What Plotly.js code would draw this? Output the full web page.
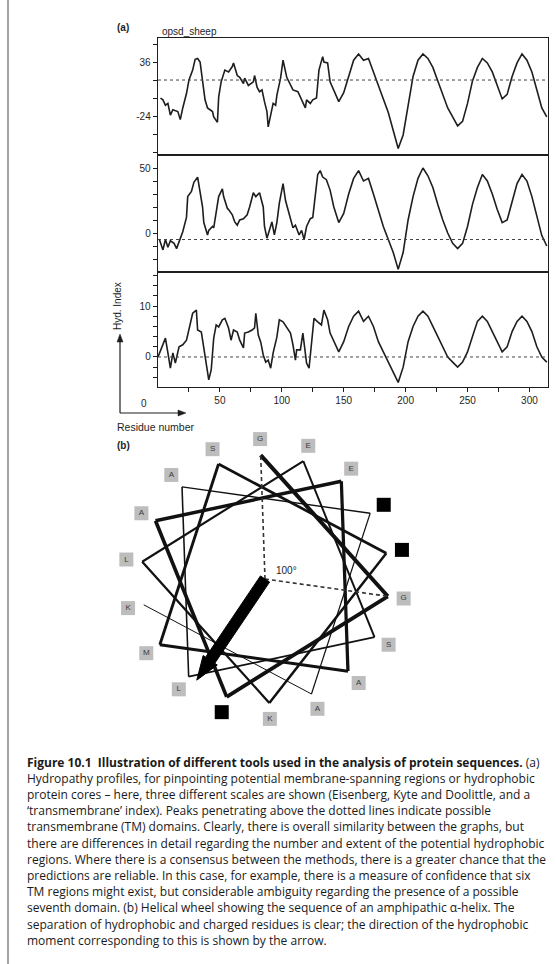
<!DOCTYPE html>
<html><head><meta charset="utf-8">
<script src="https://cdn.plot.ly/plotly-3.0.1.min.js"></script>
<style>html,body{margin:0;padding:0;background:#fff}#chart{width:556px;height:964px}</style>
</head><body><div id="chart"></div>
<script>
// ---------- DATA ----------
const eisenbergResidue = [2,4,6,8,10,12,16,18,20,23, 25,28,30,32,34,36,38,40,44,45, 48,49,51,54,57,60,61,64,66,69, 70,73,77,78,80,82,84,86,88,89, 91,93,95,96,99,101,104,107,109,113, 116,119,120,123,125,128,130,133,134,137, 139,
  142,146,150,154,158,162,166,170,174,178,182,186,190,194,198,202,206,210,214,218,222,226,230,234,238,242,246,250,254,258,262,266,270,274,278,282,286,290,294,298,302,306,310,314];
const eisenbergValue = [-4,-6,-12,-10,-23,-17,-19,-28,-15,1, 16,27,39,40,36,12,-6,-15,-19,-25, -31,-3,14,27,25,31,35,21,19,12, 18,10,14,21,8,3,5,-8,-19,-36, -23,-10,-12,-1,18,38,19,10,5,3, -6,-15,-6,-10,-6,-4,27,42,36,35, 14,
  5,-8,2,20,38,45,38,40,25,10,-5,-20,-40,-60,-45,-10,20,38,45,40,30,15,0,-15,-25,-35,-30,-10,15,30,40,35,25,10,-5,0,20,35,45,38,25,5,-15,-25];

const kdResidue = [1,4,6,8,10,13,15,18,20,23, 24,27,29,32,33,36,37,40,41,44, 45,48,49,52,53,56,57,60,62,64, 66,69,72,74,77,79,82,85,86,88, 90,92,94,96,98,100,101,103,106,109, 111,114,116,118,120,123,125,127,129,131, 133,136,139,
  142,146,150,154,158,162,166,170,174,178,182,186,190,194,198,202,206,210,214,218,222,226,230,234,238,242,246,250,254,258,262,266,270,274,278,282,286,290,294,298,302,306,310,314];
const kdValue = [-4.6,-13,-5,-11,-6,-8,-12,-5,1,12, 28,32,39,43,38,20,8,-1.5,2,5, 4,25,28,34,28,19,18,14,8.5,6, 10,11,14,20,31,28,31,20,5,-4, 2,8.5,-1.5,8,23,33,38,25,14,4, 6,-1.5,2,-5,5,11,12,28,45,48, 43,41,33,
  20,8,15,30,42,48,40,42,30,18,5,-5,-15,-28,-15,10,28,42,50,44,35,22,10,0,-8,-12,-8,5,22,35,45,40,30,18,8,10,25,38,45,40,28,12,-2,-10];

const tmResidue = [0,3,6,8,10,12,14,17,20,23, 26,28,31,32,35,37,40,41,43,45, 47,49,52,54,57,59,61,64,66,69, 70,73,76,78,79,81,83,85,87,89, 91,93,96,98,101,104,107,109,111,112, 115,117,119,120,122,124,126,129,132,134, 137,139,
  142,146,150,154,158,162,166,170,174,178,182,186,190,194,198,202,206,210,214,218,222,226,230,234,238,242,246,250,254,258,262,266,270,274,278,282,286,290,294,298,302,306,310,314];
const tmValue = [0,2,3.7,0.8,-2.2,0.8,-1.2,2,2.4,3.3, 6.6,8.6,9.2,5.3,4.9,1.8,-2.5,-4.5,-2.5,3.7, 6.3,5.9,7.3,7.6,5.7,3.3,5.3,4.9,3.3,1.8, 4.7,4.9,5.3,5.7,8.6,4.3,2.9,0.4,-1,-0.6, -2.2,0.8,3.9,7.3,6.9,5.9,4.7,2.4,-0.6,1.4, 1.4,4.7,1.4,-1.2,-2.2,2.7,7.6,6.9,6.3,9.2, 7.3,4.7,
  3,1,3,6,8,9,7,8,6,3,1,-1,-3,-5,-2,3,6,8,9,8,6,4,2,0,-1,-2,-1,1,4,7,8,7,5,3,1,2,5,7,8,7,5,2,0,-1];

const thresholds = [16, -5, 0];
const yTickLabelsTop = {vals:[-64,-44,-24,-4,16,36,56], text:['','','-24','','','36','']};
const yTickLabelsMid = {vals:[-20,-10,0,10,20,30,40,50], text:['','','0','','','','','50']};
const yTickLabelsBot = {vals:[-4,-2,0,2,4,6,8,10,12,14,16], text:['','','0','','','','','10','','','']};
const xTickVals = [25,50,75,100,125,150,175,200,225,250,275,300];
const xTickText = ['','50','','100','','150','','200','','250','','300'];

// helical wheel
const wheelResidues = ['G','G','K','A','E','A','M','S','R','K','L','E','S','L','A','K','A','K'];
const wheelCharged  = [0,0,1,0,0,0,0,0,1,0,0,0,0,0,0,1,0,0];
const wheelStepDeg = 100;
const wheelStartDeg = -2;
const momentAngleDeg = 214;

const captionLines = [
 "<b>Figure 10.1  Illustration of different tools used in the analysis of protein sequences.</b> (a)",
 "Hydropathy profiles, for pinpointing potential membrane-spanning regions or hydrophobic",
 "protein cores – here, three different scales are shown (Eisenberg, Kyte and Doolittle, and a",
 "‘transmembrane’ index). Peaks penetrating above the dotted lines indicate possible",
 "transmembrane (TM) domains. Clearly, there is overall similarity between the graphs, but",
 "there are differences in detail regarding the number and extent of the potential hydrophobic",
 "regions. Where there is a consensus between the methods, there is a greater chance that the",
 "predictions are reliable. In this case, for example, there is a measure of confidence that six",
 "TM regions might exist, but considerable ambiguity regarding the presence of a possible",
 "seventh domain. (b) Helical wheel showing the sequence of an amphipathic α-helix. The",
 "separation of hydrophobic and charged residues is clear; the direction of the hydrophobic",
 "moment corresponding to this is shown by the arrow."
];

// ---------- LAYOUT HELPERS ----------
const W = 556, H = 964;
const px = x => x / W, py = y => 1 - y / H;
const plotL = 158, plotR = 548;
const panels = [ {top:38, bot:155}, {top:155, bot:272}, {top:272, bot:387} ];
const yRanges = [[-67.3, 62.7], [-30, 60], [-5.9, 16.7]];
const xRange = [0, 315];
const ink = '#1e1e1e';
const tickFont = {family:'Liberation Sans, Arial, sans-serif', size:10, color:ink};

const traces = [];
const series = [[eisenbergResidue, eisenbergValue], [kdResidue, kdValue], [tmResidue, tmValue]];
series.forEach((s, i) => {
  traces.push({type:'scatter', mode:'lines', x:s[0], y:s[1], xaxis: i===0?'x':'x'+(i+1), yaxis: i===0?'y':'y'+(i+1),
    line:{color:ink, width:1.6}, hoverinfo:'skip', showlegend:false});
});

const layout = {
  width: W, height: H, margin:{l:0,r:0,t:0,b:0}, paper_bgcolor:'#fff', plot_bgcolor:'rgba(0,0,0,0)',
  showlegend:false, shapes:[], annotations:[]
};
const yTicks = [yTickLabelsTop, yTickLabelsMid, yTickLabelsBot];
panels.forEach((p, i) => {
  const xa = i===0?'xaxis':'xaxis'+(i+1), ya = i===0?'yaxis':'yaxis'+(i+1);
  const yid = i===0?'y':'y'+(i+1), xid = i===0?'x':'x'+(i+1);
  layout[xa] = {domain:[px(plotL), px(plotR)], range:xRange, anchor:yid, showgrid:false, zeroline:false,
    showline:true, mirror:true, linecolor:ink, linewidth:1.3, fixedrange:true,
    ticks: i===2?'outside':'', ticklen:4, tickcolor:ink, tickwidth:1,
    tickvals: i===2?xTickVals:[], ticktext: i===2?xTickText:[], showticklabels: i===2, tickfont:tickFont};
  layout[ya] = {domain:[py(p.bot), py(p.top)], range:yRanges[i], anchor:xid, showgrid:false, zeroline:false,
    showline:true, mirror:true, linecolor:ink, linewidth:1.3, fixedrange:true,
    ticks:'outside', ticklen:4, tickcolor:ink, tickwidth:1,
    tickvals:yTicks[i].vals, ticktext:yTicks[i].text, tickfont:tickFont};
  layout.shapes.push({type:'line', xref:xid+' domain', yref:yid, x0:0, x1:1, y0:thresholds[i], y1:thresholds[i],
    line:{color:'#444', width:1, dash:'3px,3px'}});
});

// ---------- HELICAL WHEEL (axis in pixel units) ----------
const wx0 = 95, wx1 = 445, wy0 = 425, wy1 = 745;
layout.xaxis4 = {domain:[px(wx0), px(wx1)], range:[wx0, wx1], anchor:'y4', visible:false, fixedrange:true};
layout.yaxis4 = {domain:[py(wy1), py(wy0)], range:[wy1, wy0], anchor:'x4', visible:false, fixedrange:true};
const cx = 265, cy = 579, rV = 124, rL = 140;
const ang = n => (wheelStartDeg + wheelStepDeg * n) * Math.PI / 180;
const pt = (a, r) => [cx + r * Math.sin(a), cy - r * Math.cos(a)];
const nRes = wheelResidues.length;
for (let n = 0; n < nRes - 1; n++) {
  const a = pt(ang(n), rV), b = pt(ang(n+1), rV);
  const w = 4 - 3 * n / (nRes - 2);
  traces.push({type:'scatter', mode:'lines', x:[a[0], b[0]], y:[a[1], b[1]], xaxis:'x4', yaxis:'y4',
    line:{color:'#111', width:w}, hoverinfo:'skip'});
}
[0, 1].forEach(n => {
  const a = pt(ang(n), rV);
  traces.push({type:'scatter', mode:'lines', x:[cx, a[0]], y:[cy, a[1]], xaxis:'x4', yaxis:'y4',
    line:{color:'#333', width:1.6, dash:'4px,3px'}, hoverinfo:'skip'});
});
(function(){
  const t = momentAngleDeg * Math.PI / 180;
  const u = [Math.sin(t), -Math.cos(t)], p = [-u[1], u[0]];
  const L = 122, hl = 24, hw = 5.5, hh = 8.5;
  const P = (s, q) => [cx + u[0]*s + p[0]*q, cy + u[1]*s + p[1]*q];
  const poly = [P(0,hw), P(L-hl,hw), P(L-hl,hh), P(L,0), P(L-hl,-hh), P(L-hl,-hw), P(0,-hw), P(0,hw)];
  traces.push({type:'scatter', mode:'lines', x:poly.map(v=>v[0]), y:poly.map(v=>v[1]), xaxis:'x4', yaxis:'y4',
    fill:'toself', fillcolor:'#000', line:{color:'#000', width:1}, hoverinfo:'skip'});
})();
const labPts = wheelResidues.map((r, n) => pt(ang(n), rL));
traces.push({type:'scatter', mode:'markers+text', x:labPts.map(v=>v[0]), y:labPts.map(v=>v[1]), xaxis:'x4', yaxis:'y4',
  text:wheelResidues, textposition:'middle center',
  textfont:{family:'Liberation Sans, Arial, sans-serif', size:8, color:wheelCharged.map(c=>c?'#000':'#3a3a3a')},
  marker:{symbol:'square', size:14, color:wheelCharged.map(c=>c?'#000':'#bdbdbd'), line:{width:0}}, hoverinfo:'skip'});
layout.annotations.push({xref:'x4', yref:'y4', x:cx+9, y:cy-9, text:'100°', showarrow:false, xanchor:'left', yanchor:'middle',
  font:{family:'Liberation Sans, Arial, sans-serif', size:10, color:ink}});

// ---------- TEXT & DECORATION ----------
const small = {family:'Liberation Sans, Arial, sans-serif', size:10, color:ink};
const txt = (x, y, s, opt={}) => layout.annotations.push(Object.assign({xref:'paper', yref:'paper', x:px(x), y:py(y), text:s,
  showarrow:false, xanchor:'left', yanchor:'middle', font:small}, opt));
txt(115, 27, '<b>(a)</b>');
txt(160, 32, 'opsd_sheep');
txt(149, 403, '0', {xanchor:'right'});
txt(115, 427, 'Residue number', {font:Object.assign({}, small, {size:10.5})});
txt(115, 445, '<b>(b)</b>');
txt(117, 306, 'Hyd. Index', {textangle:-90, xanchor:'center'});
layout.shapes.push({type:'line', xref:'paper', yref:'paper', x0:px(120), x1:px(120), y0:py(413), y1:py(340), line:{color:ink, width:1.2}});
layout.shapes.push({type:'line', xref:'paper', yref:'paper', x0:px(120), x1:px(180), y0:py(413), y1:py(413), line:{color:ink, width:1.2}});
layout.shapes.push({type:'path', xref:'paper', yref:'paper', fillcolor:ink, line:{color:ink, width:0.5},
  path:`M ${px(117)} ${py(342)} L ${px(123)} ${py(342)} L ${px(120)} ${py(334)} Z`});
layout.shapes.push({type:'path', xref:'paper', yref:'paper', fillcolor:ink, line:{color:ink, width:0.5},
  path:`M ${px(178)} ${py(410)} L ${px(178)} ${py(416)} L ${px(186)} ${py(413)} Z`});
layout.shapes.push({type:'line', xref:'paper', yref:'paper', x0:px(8), x1:px(8), y0:0, y1:1, line:{color:'#666', width:1.2}});

captionLines.forEach((s, i) => {
  layout.annotations.push({xref:'paper', yref:'paper', x:px(25), y:py(762 + 16.2 * i), text:s, showarrow:false,
    xanchor:'left', yanchor:'middle', font:{family:'Open Sans, Noto Sans, sans-serif', size:12, color:'#1a1a1a'}});
});

Plotly.newPlot('chart', traces, layout, {staticPlot:true, displayModeBar:false});
</script></body></html>
